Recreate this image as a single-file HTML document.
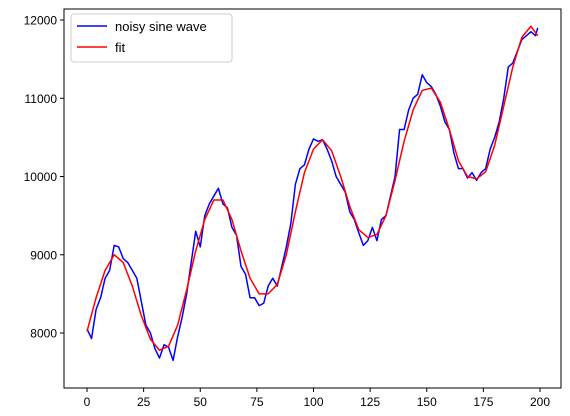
<!DOCTYPE html>
<html><head><meta charset="utf-8"><style>
body{margin:0;background:#fff;}
svg{font-family:"Liberation Sans","DejaVu Sans",sans-serif;}
</style></head><body>
<svg id="chart" width="570" height="411" xmlns="http://www.w3.org/2000/svg">
<rect width="570" height="411" fill="#fff"/>
<g id="plot"></g>
<g id="axes"></g>
<rect x="64" y="9" width="497" height="379" fill="none" stroke="#000" stroke-width="1"/>
<g>
<rect x="71" y="14" width="161" height="48" rx="3" fill="#fff" fill-opacity="0.8" stroke="#ccc"/>
<line x1="77" y1="26" x2="107" y2="26" stroke="#0000ff" stroke-width="1.5"/>
<text x="115" y="31" font-size="13">noisy sine wave</text>
<line x1="77" y1="47" x2="107" y2="47" stroke="#ff0000" stroke-width="1.5"/>
<text x="115" y="52" font-size="13">fit</text>
</g>
</svg>
<script>
const noisyX=[0,2,4,6,8,10,12,14,16,18,20,22,24,26,28,30,32,34,36,38,40,42,44,46,48,50,52,54,56,58,60,62,64,66,68,70,72,74,76,78,80,82,84,86,88,90,92,94,96,98,100,102,104,106,108,110,112,114,116,118,120,122,124,126,128,130,132,134,136,138,140,142,144,146,148,150,152,154,156,158,160,162,164,166,168,170,172,174,176,178,180,182,184,186,188,190,192,194,196,198,199];
const noisyY=[8050,7930,8300,8450,8700,8800,9120,9100,8950,8900,8800,8700,8400,8100,8000,7800,7680,7850,7820,7650,7950,8200,8500,8900,9300,9100,9500,9650,9750,9850,9650,9600,9350,9250,8850,8750,8450,8450,8350,8380,8600,8700,8600,8850,9100,9400,9900,10100,10150,10350,10480,10450,10470,10350,10200,10000,9900,9800,9550,9450,9280,9120,9180,9350,9180,9450,9500,9750,10000,10600,10600,10850,11000,11050,11300,11200,11150,11050,10900,10700,10600,10300,10100,10100,9980,10050,9950,10050,10100,10350,10500,10700,11000,11400,11450,11600,11750,11800,11850,11800,11900];
const fitX=[0,4,8,12,16,20,24,28,32,36,40,44,48,52,56,60,64,68,72,76,80,84,88,92,96,100,104,108,112,116,120,124,128,132,136,140,144,148,152,156,160,164,168,172,176,180,184,188,192,196,199];
const fitY=[8020,8450,8800,9000,8900,8600,8220,7920,7780,7830,8100,8550,9050,9450,9700,9700,9450,9050,8700,8500,8500,8620,9000,9550,10050,10350,10470,10330,10000,9620,9320,9220,9260,9500,9950,10450,10850,11100,11130,10950,10600,10200,10000,9970,10060,10400,10900,11400,11780,11920,11800];
const xTicks=[0,25,50,75,100,125,150,175,200];
const yTicks=[8000,9000,10000,11000,12000];
const NS="http://www.w3.org/2000/svg";
const sx=v=>87+v*(540-87)/200;
const sy=v=>333-(v-8000)*0.07825;
const plot=document.getElementById('plot'),axes=document.getElementById('axes');
function mk(t,a,p){const e=document.createElementNS(NS,t);for(const k in a)e.setAttribute(k,a[k]);p.appendChild(e);return e;}
const l1=mk('polyline',{points:noisyX.map((x,i)=>sx(x)+','+sy(noisyY[i])).join(' '),fill:'none',stroke:'#0000ff','stroke-width':1.5,'stroke-linejoin':'round'},plot);


const l2=mk('polyline',{points:fitX.map((x,i)=>sx(x)+','+sy(fitY[i])).join(' '),fill:'none',stroke:'#ff0000','stroke-width':1.5,'stroke-linejoin':'round'},plot);


xTicks.forEach(t=>{
 const ln=mk('line',{x1:sx(t),x2:sx(t),y1:388,y2:392,stroke:'#000'},axes);
 
 
 const tx=mk('text',{x:sx(t),y:406,'font-size':12,'text-anchor':'middle'},axes);tx.textContent=t;
 
 
});
yTicks.forEach(t=>{
 const ln=mk('line',{x1:60,x2:64,y1:sy(t),y2:sy(t),stroke:'#000'},axes);
 
 
 const tx=mk('text',{x:57,y:sy(t)+4.5,'font-size':12,'text-anchor':'end'},axes);tx.textContent=t;
 
 
});
</script>
</body></html>
